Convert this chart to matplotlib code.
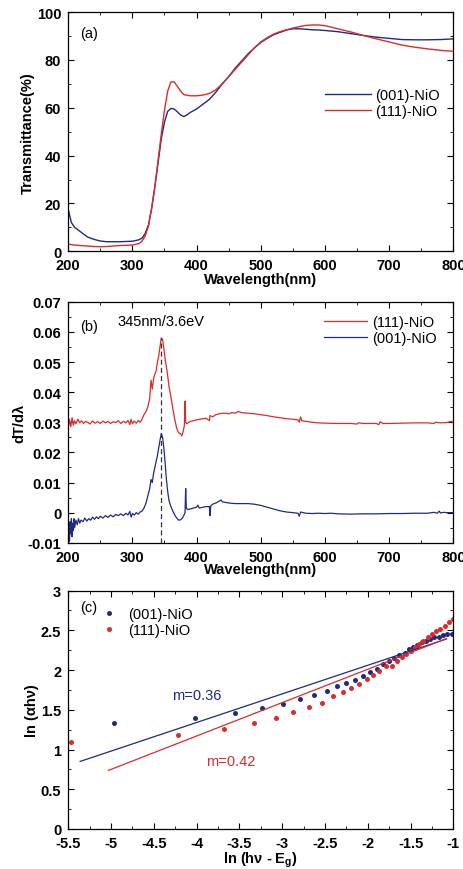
import numpy as np
import matplotlib
matplotlib.use("Agg")
import matplotlib.pyplot as plt
from matplotlib.ticker import MultipleLocator, FuncFormatter

plt.rcParams['font.family'] = ['Liberation Sans', 'DejaVu Sans']
plt.rcParams['mathtext.fontset'] = 'custom'
plt.rcParams['mathtext.rm'] = 'Liberation Sans:bold'
plt.rcParams['mathtext.it'] = 'Liberation Sans:bold'
plt.rcParams['font.size'] = 10

blue = '#1f2a85'
red = '#dc2b2b'

# ---- (a) transmittance spectra ----
wl_001 = [200, 205, 210, 220, 230, 240, 250, 260, 270, 280, 290, 300, 310, 315, 320, 325, 330, 335,
          340, 345, 350, 355, 360, 365, 370, 375, 380, 385, 390, 400, 410, 420, 430, 440, 450, 460,
          470, 480, 490, 500, 510, 520, 530, 540, 550, 560, 570, 580, 590, 600, 620, 640, 660, 680,
          700, 720, 740, 760, 780, 800]
T_001 = [17.5, 12, 10, 8, 6, 5, 4.3, 4, 4, 4, 4.1, 4.2, 4.8, 5.5, 7.5, 11, 18, 27,
         37, 47, 54, 58.5, 59.7, 59.5, 58.3, 57, 56.3, 57, 58, 59.5, 61.5, 63.5, 66.5, 70, 73, 76.5,
         79.5, 82.5, 85, 87.3, 89, 90.5, 91.5, 92.5, 93, 93, 92.8, 92.6, 92.5, 92.3, 91.8, 91, 90.2, 89.5,
         89, 88.5, 88.4, 88.4, 88.5, 88.8]

wl_111 = [200, 210, 220, 230, 240, 250, 260, 270, 280, 290, 300, 310, 315, 320, 325, 330, 335, 340,
          345, 350, 355, 360, 365, 370, 375, 380, 390, 400, 410, 420, 430, 440, 450, 460, 470, 480,
          490, 500, 510, 520, 530, 540, 550, 560, 570, 580, 590, 600, 610, 620, 640, 660, 680, 700,
          720, 740, 760, 780, 800]
T_111 = [3, 2.6, 2.4, 2.2, 2.0, 1.9, 2.0, 2.2, 2.4, 2.5, 2.6, 3.2, 4.2, 6.5, 10.5, 18, 27, 38,
         49, 59, 67, 70.8, 70.8, 69, 67, 65.5, 65, 65, 65.3, 66, 67.5, 70, 73, 76, 79, 82,
         85, 87.5, 89.3, 90.8, 91.8, 92.6, 93.3, 93.9, 94.4, 94.6, 94.6, 94.3, 93.7, 93, 91.7, 90.2, 88.8, 87.5,
         86.2, 85.3, 84.6, 84, 83.6]

# ---- (b) derivative dT/dlambda ----
wl_d111 = [200, 202, 204, 206, 208, 210, 212, 215, 218, 221, 224, 227, 230, 234, 238, 242, 246, 250,
           254, 258, 262, 266, 270, 274, 278, 282, 286, 290, 293, 296, 298, 300, 303, 306, 309, 312,
           315, 318, 321, 324, 327, 329, 331, 333, 335, 337, 339, 341, 343, 345, 347, 349, 351, 354,
           357, 360, 363, 366, 369, 372, 375, 377, 379, 381, 382, 383, 385, 388, 391, 395, 400, 405,
           410, 415, 420, 421, 425, 430, 435, 440, 445, 450, 455, 460, 465, 470, 480, 490, 500, 510,
           520, 530, 540, 550, 558, 560, 562, 564, 570, 580, 590, 600, 620, 640, 650, 652, 660, 680,
           684, 686, 690, 700, 720, 740, 760, 770, 772, 780, 790, 797, 800]
d_111 = [0.0280, 0.0310, 0.0285, 0.0315, 0.0290, 0.0305, 0.0295, 0.0310, 0.0298, 0.0305, 0.0296, 0.0303,
         0.0300, 0.0294, 0.0304, 0.0297, 0.0302, 0.0296, 0.0304, 0.0298, 0.0303, 0.0296, 0.0302, 0.0299,
         0.0305, 0.0296, 0.0303, 0.0298, 0.0306, 0.0292, 0.0310, 0.0295, 0.0304, 0.0297, 0.0306, 0.0300,
         0.0310, 0.0325, 0.0335, 0.0350, 0.0380, 0.0440, 0.0410, 0.0445, 0.0460, 0.0470, 0.0500, 0.0520,
         0.0550, 0.0580, 0.0575, 0.0545, 0.0510, 0.0470, 0.0420, 0.0385, 0.0345, 0.0310, 0.0280, 0.0265,
         0.0262, 0.0255, 0.0268, 0.0290, 0.0370, 0.0300, 0.0295, 0.0300, 0.0303, 0.0305, 0.0308, 0.0310,
         0.0312, 0.0313, 0.0305, 0.0322, 0.0318, 0.0325, 0.0328, 0.0330, 0.0330, 0.0328, 0.0332, 0.0330,
         0.0336, 0.0332, 0.0330, 0.0328, 0.0325, 0.0322, 0.0318, 0.0315, 0.0312, 0.0310, 0.0308, 0.0300,
         0.0318, 0.0305, 0.0303, 0.0300, 0.0298, 0.0297, 0.0296, 0.0296, 0.0294, 0.0298, 0.0296, 0.0296,
         0.0292, 0.0302, 0.0296, 0.0296, 0.0297, 0.0298, 0.0298, 0.0296, 0.0300, 0.0298, 0.0299, 0.0303,
         0.0298]

wl_d001 = [200, 201, 202, 203, 204, 205, 206, 207, 208, 209, 210, 212, 214, 216, 218, 220, 223, 226,
           229, 232, 235, 238, 241, 244, 247, 250, 254, 258, 262, 266, 270, 274, 278, 282, 286, 290,
           293, 296, 298, 300, 303, 306, 309, 312, 315, 318, 321, 324, 327, 329, 331, 333, 335, 337,
           339, 341, 343, 345, 347, 349, 351, 353, 355, 357, 360, 363, 366, 369, 372, 375, 378, 380,
           382, 383, 384, 386, 390, 395, 400, 402, 404, 410, 415, 420, 421, 422, 425, 430, 435, 438,
           440, 445, 450, 460, 470, 480, 490, 500, 510, 520, 530, 540, 550, 558, 560, 562, 570, 580,
           590, 600, 610, 620, 640, 660, 680, 700, 720, 740, 760, 770, 775, 778, 780, 785, 790, 800]
d_001 = [-0.0085, -0.0040, -0.0095, -0.0030, -0.0070, -0.0020, -0.0080, -0.0035, -0.0060, -0.0020,
         -0.0050, -0.0025, -0.0040, -0.0020, -0.0035, -0.0025, -0.0030, -0.0018, -0.0028, -0.0020,
         -0.0025, -0.0015, -0.0022, -0.0014, -0.0020, -0.0012, -0.0018, -0.0010, -0.0016, -0.0008,
         -0.0014, -0.0006, -0.0010, -0.0004, -0.0010, -0.0002, -0.0008, 0.0004, -0.0015, -0.0003,
         -0.0008, 0.0000, -0.0005, 0.0002, 0.0005, 0.0015, 0.0030, 0.0055, 0.0080, 0.0110,
         0.0100, 0.0130, 0.0150, 0.0170, 0.0190, 0.0215, 0.0240, 0.0262, 0.0250, 0.0215,
         0.0165, 0.0110, 0.0070, 0.0040, 0.0020, 0.0005, -0.0008, -0.0018, -0.0025, -0.0024,
         -0.0018, -0.0010, 0.0000, 0.0080, 0.0015, 0.0010, 0.0012, 0.0015, 0.0018, 0.0025,
         0.0015, 0.0018, 0.0020, 0.0020, -0.0010, 0.0022, 0.0028, 0.0032, 0.0038, 0.0042,
         0.0036, 0.0034, 0.0032, 0.0030, 0.0030, 0.0030, 0.0028, 0.0024, 0.0018, 0.0012,
         0.0006, 0.0002, 0.0000, -0.0002, -0.0012, 0.0002, -0.0002, -0.0003, -0.0002, -0.0003,
         -0.0002, -0.0004, -0.0005, -0.0004, -0.0004, -0.0003, -0.0003, -0.0002, -0.0002, 0.0001,
         -0.0002, 0.0005, -0.0001, 0.0001, 0.0000, 0.0000]

peak_wl = 345
peak_top = 0.058

# ---- (c) ln(alpha h nu) vs ln(h nu - Eg) ----
lx_001 = [-4.96, -4.02, -3.55, -3.23, -2.99, -2.79, -2.63, -2.48, -2.36, -2.25, -2.15, -2.05, -1.97,
          -1.89, -1.82, -1.75, -1.69, -1.63, -1.57, -1.52, -1.47, -1.42, -1.37, -1.32, -1.27, -1.22,
          -1.17, -1.12, -1.07, -1.02]
ly_001 = [1.33, 1.40, 1.46, 1.52, 1.57, 1.64, 1.69, 1.74, 1.80, 1.84, 1.88, 1.93, 1.97,
          2.01, 2.07, 2.12, 2.15, 2.19, 2.22, 2.26, 2.29, 2.32, 2.35, 2.37, 2.39, 2.41,
          2.42, 2.44, 2.45, 2.45]
lx_111 = [-5.47, -4.22, -3.68, -3.33, -3.07, -2.87, -2.69, -2.54, -2.41, -2.29, -2.19, -2.10, -2.01,
          -1.94, -1.87, -1.79, -1.72, -1.66, -1.60, -1.55, -1.50, -1.45, -1.40, -1.35, -1.30, -1.25,
          -1.20, -1.15, -1.10, -1.05, -1.00]
ly_111 = [1.10, 1.18, 1.26, 1.33, 1.40, 1.47, 1.54, 1.59, 1.67, 1.72, 1.78, 1.83, 1.89,
          1.94, 1.99, 2.05, 2.05, 2.11, 2.16, 2.20, 2.24, 2.29, 2.33, 2.37, 2.41, 2.45,
          2.49, 2.52, 2.56, 2.60, 2.64]

# linear fits: slope m, intercept b, x range
m_001, b_001, xr_001 = 0.36, 2.78, (-5.36, -1.08)
m_111, b_111, xr_111 = 0.42, 2.85, (-5.03, -1.08)

fig = plt.figure(figsize=(4.64, 8.70), dpi=100)
ax1 = fig.add_axes([0.147, 0.710, 0.830, 0.275])
ax2 = fig.add_axes([0.147, 0.375, 0.830, 0.277])
ax3 = fig.add_axes([0.147, 0.046, 0.830, 0.274])

LBL = dict(fontsize=10.5, fontweight='bold')
LEG = dict(size=10.5)


def style(ax):
    ax.tick_params(which='both', direction='in', top=True, right=True)
    ax.tick_params(axis='y', pad=5)
    ax.tick_params(axis='x', pad=5)
    ax.tick_params(which='major', length=4)
    ax.tick_params(which='minor', length=2)
    for t in ax.get_xticklabels() + ax.get_yticklabels():
        t.set_fontweight('bold')
        t.set_fontsize(10.5)
    for s in ax.spines.values():
        s.set_linewidth(0.9)


# (a)
ax1.plot(wl_001, T_001, color=blue, lw=1.0, label='(001)-NiO')
ax1.plot(wl_111, T_111, color=red, lw=1.0, label='(111)-NiO')
ax1.set_xlim(200, 800)
ax1.set_ylim(0, 100)
ax1.xaxis.set_major_locator(MultipleLocator(100))
ax1.xaxis.set_minor_locator(MultipleLocator(50))
ax1.yaxis.set_major_locator(MultipleLocator(20))
ax1.yaxis.set_minor_locator(MultipleLocator(10))
ax1.set_xlabel('Wavelength(nm)', labelpad=0, **LBL)
ax1.set_ylabel('Transmittance(%)', labelpad=1, **LBL)
ax1.text(0.03, 0.94, '(a)', transform=ax1.transAxes, ha='left', va='top', fontsize=10.5)
ax1.legend(loc='center right', bbox_to_anchor=(1.0, 0.62), frameon=False, prop=LEG,
           handlelength=3.2, handletextpad=0.3, labelspacing=0.15)
style(ax1)

# (b)
ax2.plot(wl_d111, d_111, color=red, lw=0.9, label='(111)-NiO')
ax2.plot(wl_d001, d_001, color=blue, lw=0.9, label='(001)-NiO')
ax2.plot([peak_wl, peak_wl], [-0.01, peak_top], color='#333333', lw=0.9, ls=(0, (4, 2.5)))
ax2.text(peak_wl, 0.0635, '345nm/3.6eV', ha='center', va='center', fontsize=10.5)
ax2.set_xlim(200, 800)
ax2.set_ylim(-0.01, 0.07)
ax2.xaxis.set_major_locator(MultipleLocator(100))
ax2.xaxis.set_minor_locator(MultipleLocator(50))
ax2.yaxis.set_major_locator(MultipleLocator(0.01))
ax2.yaxis.set_minor_locator(MultipleLocator(0.005))
ax2.yaxis.set_major_formatter(FuncFormatter(
    lambda v, p: '0' if abs(v) < 1e-9 else ('%.2f' % v)))
ax2.set_xlabel('Wavelength(nm)', labelpad=-1, **LBL)
ax2.set_ylabel('dT/d\u03bb', labelpad=1, **LBL)
ax2.text(0.03, 0.93, '(b)', transform=ax2.transAxes, ha='left', va='top', fontsize=10.5)
ax2.legend(loc='upper right', bbox_to_anchor=(0.99, 1.0), frameon=False, prop=LEG,
           handlelength=3.0, handletextpad=0.3, labelspacing=0.15)
style(ax2)

# (c)
ax3.plot(lx_001, ly_001, 'o', color=blue, ms=3.6, mec='none', label='(001)-NiO')
ax3.plot(lx_111, ly_111, 'o', color=red, ms=3.6, mec='none', label='(111)-NiO')
fx = np.array(xr_001)
ax3.plot(fx, m_001 * fx + b_001, color=blue, lw=0.9)
fx = np.array(xr_111)
ax3.plot(fx, m_111 * fx + b_111, color=red, lw=0.9)
ax3.text(-4.0, 1.68, 'm=%.2f' % m_001, color=blue, ha='center', va='center', fontsize=10.5)
ax3.text(-3.6, 0.85, 'm=%.2f' % m_111, color=red, ha='center', va='center', fontsize=10.5)
ax3.set_xlim(-5.5, -1)
ax3.set_ylim(0, 3)
ax3.xaxis.set_major_locator(MultipleLocator(0.5))
ax3.xaxis.set_minor_locator(MultipleLocator(0.25))
ax3.yaxis.set_major_locator(MultipleLocator(0.5))
ax3.yaxis.set_minor_locator(MultipleLocator(0.25))
ax3.xaxis.set_major_formatter(FuncFormatter(lambda v, p: '%g' % v))
ax3.yaxis.set_major_formatter(FuncFormatter(lambda v, p: '%g' % v))
ax3.set_xlabel('ln (h\u03bd - E$_g$)', labelpad=0, **LBL)
ax3.set_ylabel('ln (\u03b1h\u03bd)', labelpad=1, **LBL)
ax3.text(0.03, 0.96, '(c)', transform=ax3.transAxes, ha='left', va='top', fontsize=10.5)
ax3.legend(loc='upper left', bbox_to_anchor=(0.05, 0.985), frameon=False, prop=LEG,
           handlelength=1.2, handletextpad=0.7, labelspacing=0.15)
style(ax3)

fig.savefig('out.png', dpi=100)
